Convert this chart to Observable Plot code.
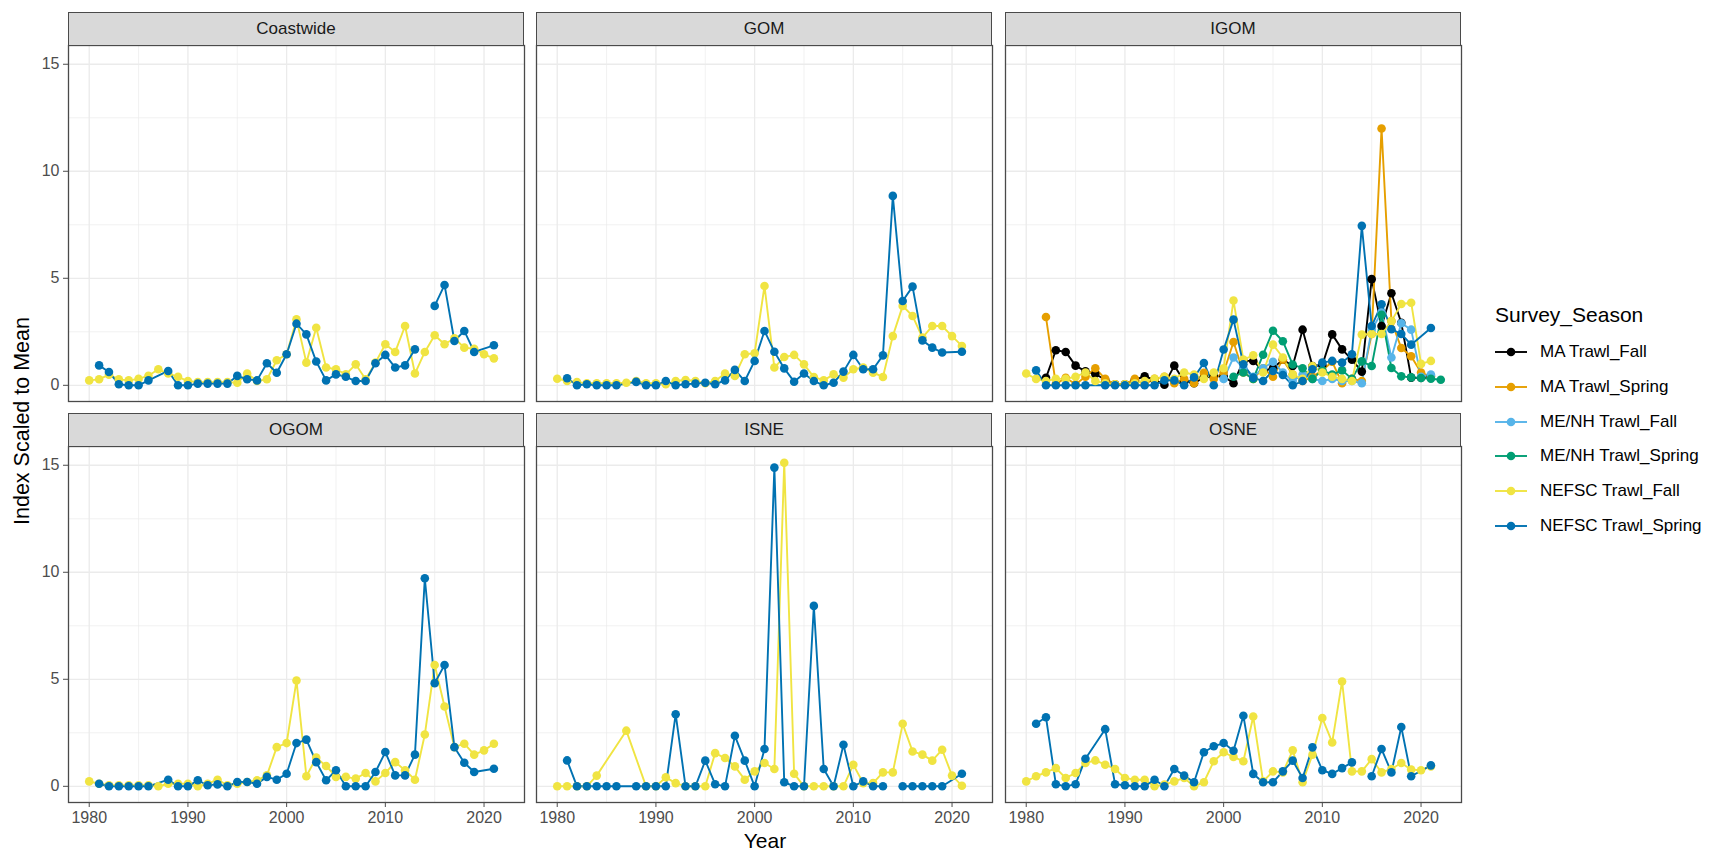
<!DOCTYPE html>
<html><head><meta charset="utf-8">
<script src="https://cdn.jsdelivr.net/npm/d3@7"></script>
<script src="https://cdn.jsdelivr.net/npm/@observablehq/plot@0.6"></script>
<style>
html,body{margin:0;padding:0;background:#fff;}
#chart{position:relative;width:1721px;height:855px;overflow:hidden;font-family:"Liberation Sans",Arial,sans-serif;background:#fff;}
.strip{position:absolute;box-sizing:border-box;background:#D9D9D9;border:1.3px solid #4a4a4a;color:#1A1A1A;font-size:17px;display:flex;align-items:center;justify-content:center;}
.panel{position:absolute;}
.lab{position:absolute;white-space:nowrap;color:#000;}
</style></head><body><div id="chart"></div>
<script>
const YEARS = [1980,1981,1982,1983,1984,1985,1986,1987,1988,1989,
  1990,1991,1992,1993,1994,1995,1996,1997,1998,1999,
  2000,2001,2002,2003,2004,2005,2006,2007,2008,2009,
  2010,2011,2012,2013,2014,2015,2016,2017,2018,2019,
  2020,2021,2022];
const SERIES = ["MA Trawl_Fall","MA Trawl_Spring","ME/NH Trawl_Fall","ME/NH Trawl_Spring","NEFSC Trawl_Fall","NEFSC Trawl_Spring"];
const COLORS = ["#000000","#E69F00","#56B4E9","#009E73","#F0E442","#0072B2"];
const REGIONS = ["Coastwide","GOM","IGOM","OGOM","ISNE","OSNE"];
const X_TICKS = [1980,1990,2000,2010,2020];
const X_MINOR = [1985,1995,2005,2015];
const Y_TICKS = [0,5,10,15];
const Y_MINOR = [2.5,7.5,12.5];
// null = year not surveyed (line continues), NaN = missing value (line breaks)

// Coastwide
const coastwideFall = [
 0.23,0.28,0.50,0.28,0.23,0.30,0.45,0.75,0.55,0.40,
 0.20,0.15,0.15,0.15,0.15,0.12,0.55,0.20,0.28,1.17,
 1.45,3.08,1.06,2.69,0.83,0.75,0.51,0.98,0.28,1.06,
 1.92,1.56,2.77,0.55,1.56,2.34,1.92,2.20,1.76,1.71,
 1.45,1.26,null];
const coastwideSpring = [
 null,0.93,0.62,0.05,0,0,0.23,null,0.67,0,
 0,0.08,0.08,0.08,0.08,0.44,0.28,0.23,1.03,0.59,
 1.45,2.88,2.38,1.11,0.23,0.51,0.40,0.20,0.20,1.03,
 1.42,0.83,0.93,1.68,NaN,3.71,4.69,2.07,2.54,1.56,
 null,1.87,null];
// GOM
const gomFall = [
 0.31,0.20,0.15,0.10,0.10,0.10,0.10,0.12,0.20,0.10,
 0.10,0.05,0.20,0.25,0.20,0.10,0.20,0.55,0.44,1.45,
 1.50,4.64,0.83,1.32,1.42,0.98,0.39,0.23,0.51,0.36,
 0.75,0.83,0.59,0.39,2.30,3.71,3.24,2.23,2.77,2.77,
 2.30,1.84,null];
const gomSpring = [
 null,0.33,0,0.05,0,0,0,null,0.16,0,
 0,0.20,0,0.05,0.08,0.12,0.05,0.23,0.72,0.20,
 1.14,2.54,1.57,0.79,0.17,0.55,0.20,0,0.12,0.64,
 1.42,0.75,0.75,1.40,8.85,3.94,4.61,2.10,1.76,1.53,
 null,1.57,null];
// IGOM
const igomMAFall = [
 null,null,0.35,1.64,1.56,0.92,0.65,0.53,0.26,0.05,
 0.05,0.26,0.42,0.26,0.03,0.92,0.19,0.10,0.37,0.42,
 0.42,0.10,1.14,1.14,0.67,0.80,1.20,0.90,2.60,0.90,
 0.95,2.38,1.68,1.20,0.64,4.96,2.77,4.30,2.92,0.36,
 0.35,0.43,null];
const igomMASpring = [
 null,null,3.19,0.05,0.35,0.05,0.40,0.80,0.30,0.05,
 0.05,0.30,0.05,0.30,0.40,0.10,0.30,0.10,0.58,0.30,
 0.60,2.02,0.60,0.30,0.80,0.40,1.20,0.50,0.20,0.40,
 0.70,1.10,0.10,0.30,0.20,2.40,12.00,3.00,1.74,1.36,
 0.60,0.40,null];
const igomMENHFall = [
 null,null,null,null,null,null,null,null,null,null,
 null,null,null,null,null,null,null,null,null,null,
 0.30,1.30,0.80,0.40,0.80,1.10,0.60,0.20,0.50,0.30,
 0.20,0.30,0.20,0.20,0.10,2.60,3.40,1.30,2.90,2.60,
 0.40,0.50,null];
const igomMENHSpring = [
 null,null,null,null,null,null,null,null,null,null,
 null,null,null,null,null,null,null,null,null,null,
 null,0.40,0.60,0.30,1.43,2.55,2.06,0.97,0.80,0.30,
 0.70,0.50,0.70,0.30,1.12,0.90,3.30,0.81,0.42,0.37,
 0.34,0.31,0.26];
const igomFall = [
 0.55,0.30,0.20,0.30,0.30,0.40,0.60,0.20,0.10,0.05,
 0.05,0.10,0.20,0.30,0.40,0.30,0.60,0.50,0.30,0.60,
 0.80,3.96,1.20,1.40,0.60,1.90,1.30,0.50,0.30,0.90,
 0.60,0.40,0.30,0.20,2.37,2.40,2.40,3.00,3.80,3.86,
 1.00,1.14,null];
const igomSpring = [
 null,0.70,0,0,0,0,0,null,0,0,
 0,0,0,0,0.23,0.23,0,0.37,1.04,0,
 1.67,3.07,0.98,0.36,0.20,0.67,0.48,0,0.20,0.75,
 1.06,1.14,1.06,1.45,7.45,2.77,3.79,2.62,2.40,1.90,
 null,2.68,null];
// OGOM
const ogomFall = [
 0.23,0.12,0.05,0.05,0.05,0.05,0.05,0,0.12,0.12,
 0.12,0,0.12,0.31,0.05,0.12,0.20,0.28,0.51,1.83,
 2.02,4.94,0.47,1.34,0.95,0.44,0.44,0.36,0.62,0.23,
 0.62,1.13,0.75,0.31,2.42,5.67,3.73,1.83,1.99,1.48,
 1.68,1.99,null];
const ogomSpring = [
 null,0.12,0,0,0,0,0,null,0.31,0,
 0,0.28,0.05,0.09,0,0.20,0.20,0.12,0.44,0.31,
 0.59,2.02,2.18,1.13,0.28,0.75,0,0,0,0.67,
 1.60,0.51,0.51,1.48,9.72,4.82,5.67,1.83,1.10,0.67,
 null,0.82,null];
// ISNE
const isneFall = [
 0,0,0,0,0.50,null,null,2.60,null,0,
 0,0.42,0.15,0,0,0,1.55,1.32,0.93,0.31,
 0.70,1.09,0.81,15.12,0.59,0,0,0,0,0,
 1.01,0.15,0.15,0.65,0.65,2.92,1.63,1.48,1.20,1.71,
 0.50,0.03,null];
const isneSpring = [
 null,1.21,0,0,0,0,0,null,0,0,
 0,0,3.37,0,0,1.20,0.10,0,2.36,1.20,
 0,1.74,14.89,0.19,0,0,8.43,0.81,0,1.94,
 0,0.23,0,0,NaN,0,0,0,0,0,
 null,0.59,null];
// OSNE
const osneFall = [
 0.23,0.47,0.65,0.85,0.39,0.62,1.09,1.21,1.01,0.81,
 0.39,0.31,0.31,0,0.08,0.23,0.39,0,0.19,1.17,
 1.59,1.37,1.17,3.26,0.23,0.70,0.65,1.68,0.19,1.48,
 3.19,2.05,4.90,0.70,0.70,1.27,0.65,0.81,1.09,0.78,
 0.75,0.93,null];
const osneSpring = [
 null,2.92,3.23,0.10,0,0.10,1.29,null,2.67,0.10,
 0.05,0,0,0.31,0,0.81,0.50,0.19,1.59,1.87,
 2.02,1.66,3.30,0.58,0.19,0.19,0.70,1.20,0.39,1.82,
 0.75,0.58,0.85,1.12,NaN,0.47,1.74,0.65,2.77,0.47,
 null,0.98,null];

const PANEL_DATA = {
  "Coastwide": {"NEFSC Trawl_Fall": coastwideFall, "NEFSC Trawl_Spring": coastwideSpring},
  "GOM": {"NEFSC Trawl_Fall": gomFall, "NEFSC Trawl_Spring": gomSpring},
  "IGOM": {"MA Trawl_Fall": igomMAFall, "MA Trawl_Spring": igomMASpring, "ME/NH Trawl_Fall": igomMENHFall,
           "ME/NH Trawl_Spring": igomMENHSpring, "NEFSC Trawl_Fall": igomFall, "NEFSC Trawl_Spring": igomSpring},
  "OGOM": {"NEFSC Trawl_Fall": ogomFall, "NEFSC Trawl_Spring": ogomSpring},
  "ISNE": {"NEFSC Trawl_Fall": isneFall, "NEFSC Trawl_Spring": isneSpring},
  "OSNE": {"NEFSC Trawl_Fall": osneFall, "NEFSC Trawl_Spring": osneSpring}
};

const rows = [];
for (const region of REGIONS) {
  for (const s of SERIES) {
    const vals = PANEL_DATA[region][s];
    if (!vals) continue;
    vals.forEach((v, i) => { if (v !== null) rows.push({region, series: s, year: YEARS[i], value: v}); });
  }
}

const xMin = d3.min(rows, d => d.year), xMax = d3.max(rows, d => d.year);
const yMin = Math.min(0, d3.min(rows, d => d.value)), yMax = d3.max(rows, d => d.value);
const xPad = 0.05 * (xMax - xMin), yPad = 0.05 * (yMax - yMin);
const xDomain = [xMin - xPad, xMax + xPad];
const yDomain = [yMin - yPad, yMax + yPad];

const FONT = '"Liberation Sans", Arial, sans-serif';
const chart = document.getElementById("chart");
const FW = 456, FH = 356, ML = 45, MR = 5, MT = 5, MB = 55;
const LEFTS = [68, 536, 1005];
const STRIP_TOPS = [12, 413];
const STRIP_H = 34;

REGIONS.forEach((region, i) => {
  const col = i % 3, row = Math.floor(i / 3);
  const left = LEFTS[col];
  const stripTop = STRIP_TOPS[row];
  const frameTop = stripTop + STRIP_H - 1;
  const data = rows.filter(d => d.region === region);
  const marks = [
    Plot.gridX(X_MINOR, {stroke: "#EBEBEB", strokeOpacity: 1, strokeWidth: 0.7}),
    Plot.gridY(Y_MINOR, {stroke: "#EBEBEB", strokeOpacity: 1, strokeWidth: 0.7}),
    Plot.gridX(X_TICKS, {stroke: "#EBEBEB", strokeOpacity: 1, strokeWidth: 1.3}),
    Plot.gridY(Y_TICKS, {stroke: "#EBEBEB", strokeOpacity: 1, strokeWidth: 1.3})
  ];
  if (col === 0) marks.push(Plot.axisY(Y_TICKS, {tickSize: 5, tickPadding: 4, fontSize: 16, color: "#4D4D4D", label: null}));
  if (row === 1) marks.push(Plot.axisX(X_TICKS, {tickSize: 5, tickPadding: 4, fontSize: 16, color: "#4D4D4D", label: null, tickFormat: d => String(d)}));
  marks.push(
    Plot.line(data, {x: "year", y: "value", z: "series", stroke: "series", strokeWidth: 1.9}),
    Plot.dot(data, {x: "year", y: "value", fill: "series", r: 4.3, stroke: null}),
    Plot.frame({stroke: "#4a4a4a", strokeWidth: 1.3})
  );
  const svg = Plot.plot({
    width: FW + ML + MR, height: FH + MT + MB,
    marginLeft: ML, marginRight: MR, marginTop: MT, marginBottom: MB,
    style: {background: "transparent", fontFamily: FONT, fontSize: "16px", overflow: "visible"},
    x: {domain: xDomain, axis: null},
    y: {domain: yDomain, axis: null},
    color: {domain: SERIES, range: COLORS},
    marks
  });
  svg.classList.add("panel");
  svg.style.left = (left - ML) + "px";
  svg.style.top = (frameTop - MT) + "px";
  svg.style.maxWidth = "none";
  chart.appendChild(svg);

  const strip = document.createElement("div");
  strip.className = "strip";
  strip.style.left = left + "px";
  strip.style.top = stripTop + "px";
  strip.style.width = FW + "px";
  strip.style.height = STRIP_H + "px";
  strip.textContent = region;
  chart.appendChild(strip);
});

// axis titles
const yTitle = document.createElement("div");
yTitle.className = "lab";
yTitle.textContent = "Index Scaled to Mean";
Object.assign(yTitle.style, {left: "22px", top: "421px", fontSize: "21.5px", transform: "translate(-50%,-50%) rotate(-90deg)"});
chart.appendChild(yTitle);

const xTitle = document.createElement("div");
xTitle.className = "lab";
xTitle.textContent = "Year";
Object.assign(xTitle.style, {left: "765px", top: "841px", fontSize: "21px", transform: "translate(-50%,-50%)"});
chart.appendChild(xTitle);

// legend
const legTitle = document.createElement("div");
legTitle.className = "lab";
legTitle.textContent = "Survey_Season";
Object.assign(legTitle.style, {left: "1495px", top: "315px", fontSize: "21px", transform: "translateY(-50%)"});
chart.appendChild(legTitle);

SERIES.forEach((s, i) => {
  const item = document.createElement("div");
  item.className = "lab";
  Object.assign(item.style, {left: "1495px", top: (352 + i * 34.8) + "px", transform: "translateY(-50%)",
    display: "flex", alignItems: "center", fontSize: "17px"});
  const ns = "http://www.w3.org/2000/svg";
  const key = document.createElementNS(ns, "svg");
  key.setAttribute("width", 32); key.setAttribute("height", 14);
  const ln = document.createElementNS(ns, "line");
  ln.setAttribute("x1", 0); ln.setAttribute("x2", 32); ln.setAttribute("y1", 7); ln.setAttribute("y2", 7);
  ln.setAttribute("stroke", COLORS[i]); ln.setAttribute("stroke-width", 1.9);
  const c = document.createElementNS(ns, "circle");
  c.setAttribute("cx", 16); c.setAttribute("cy", 7); c.setAttribute("r", 4.3); c.setAttribute("fill", COLORS[i]);
  key.appendChild(ln); key.appendChild(c);
  const t = document.createElement("span");
  t.textContent = s;
  t.style.marginLeft = "13px";
  item.appendChild(key); item.appendChild(t);
  chart.appendChild(item);
});
</script></body></html>
